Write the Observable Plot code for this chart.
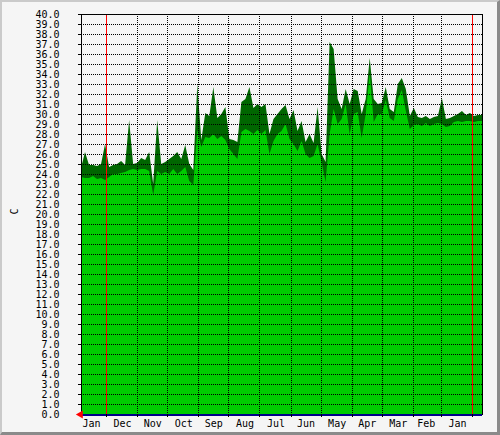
<!DOCTYPE html>
<html>
<head>
<meta charset="utf-8">
<script src="https://cdn.jsdelivr.net/npm/d3@7"></script>
<script src="https://cdn.jsdelivr.net/npm/@observablehq/plot@0.6"></script>
<style>
  html, body { margin: 0; padding: 0; background: #f5f5f5; }
  #wrap { position: relative; width: 500px; height: 435px; background: #f5f5f5; overflow: hidden; }
  #wrap svg { display: block; }
  #border { position: absolute; left: 0; top: 0; width: 500px; height: 435px; box-sizing: border-box;
    border-left: 2px solid #cacaca; border-top: 2px solid #cacaca;
    border-right: 3px solid #8a8a8a; border-bottom: 3px solid #8a8a8a; pointer-events: none; }
</style>
</head>
<body>
<div id="wrap"><div id="border"></div></div>
<script>
// Samples every 4 days, newest first (left of the chart = newest)
const newestDate = "2014-01-26";
const oldestDate = "2012-12-22";
const stepDays = 4;
const avgTemp = [
  23.7, 23.6, 23.6, 23.8, 23.5, 23.6, 23.4, 23.7, 24.0, 24.0,
  24.1, 24.2, 24.4, 24.5, 24.4, 24.5, 24.5, 24.3, 21.9, 24.3,
  24.0, 24.2, 24.0, 24.5, 24.0, 24.3, 24.7, 23.3, 22.9, 28.4,
  26.7, 27.7, 27.6, 28.0, 27.5, 27.8, 27.4, 26.5, 26.0, 25.5,
  28.2, 28.5, 28.3, 28.0, 28.4, 28.0, 28.4, 26.0, 27.3, 28.0,
  28.3, 29.0, 27.5, 27.0, 26.3, 27.3, 26.0, 25.6, 25.8, 27.0,
  25.2, 23.2, 28.0, 30.5, 29.0, 29.5, 31.0, 28.0, 30.0, 30.2,
  27.6, 30.0, 34.1, 29.2, 30.0, 30.0, 31.4, 29.6, 29.3, 31.5,
  32.4, 30.3, 28.5, 28.9, 29.0, 28.8, 29.1, 28.8, 29.0, 29.1,
  29.0, 28.7, 28.8, 29.2, 29.3, 29.2, 29.3, 29.3, 29.2, 29.3,
  29.3
];
const maxTemp = [
  24.6, 26.2, 24.9, 24.9, 24.8, 25.0, 27.0, 24.7, 24.9, 25.0,
  25.3, 24.9, 29.4, 25.0, 25.1, 25.6, 25.4, 26.2, 23.0, 29.4,
  25.0, 25.2, 25.5, 25.8, 26.2, 25.5, 26.9, 25.0, 24.4, 33.0,
  27.4, 30.1, 29.8, 32.7, 29.6, 30.0, 30.7, 27.5, 27.4, 27.2,
  31.2, 31.5, 32.7, 30.6, 31.0, 30.7, 31.0, 28.0, 29.5, 30.0,
  30.5, 30.9, 29.5, 30.4, 28.3, 29.3, 27.2, 28.0, 27.1, 30.7,
  26.0, 25.2, 37.2, 36.5, 31.5, 30.5, 32.5, 31.0, 32.5, 32.3,
  30.0, 31.5, 35.6, 31.5, 31.0, 31.1, 32.7, 30.5, 30.2, 33.0,
  33.6, 32.5, 29.8, 30.6, 29.7, 29.6, 29.8, 29.5, 29.7, 29.8,
  31.6, 29.5, 29.6, 29.8, 30.0, 30.3, 29.9, 30.1, 29.8, 29.9,
  29.9
];
const yTicks = d3.range(0, 41, 1);
const yearMarks = ["2013-01-01", "2014-01-01"];
const unitLabel = "C";

const t1 = new Date(newestDate + "T00:00:00Z");
const t0 = new Date(oldestDate + "T00:00:00Z");
const data = avgTemp.map((a, i) => ({
  date: d3.utcDay.offset(t1, -stepDays * i),
  avg: a,
  max: maxTemp[i]
}));
const monthStarts = d3.utcMonth.range(t0, t1);
const monthMids = d3.utcMonth.range(d3.utcMonth.floor(t0), t1)
  .map(d => d3.utcDay.offset(d, 15))
  .filter(d => d >= t0 && d <= t1);
const years = yearMarks.map(s => new Date(s + "T00:00:00Z"));
const crisp = { shapeRendering: "crispEdges" };

const chart = Plot.plot({
  width: 500,
  height: 435,
  marginLeft: 81,
  marginRight: 18,
  marginTop: 14,
  marginBottom: 21,
  style: { fontFamily: "DejaVu Sans Mono", fontSize: "10px", background: "transparent", color: "black" },
  x: { type: "utc", domain: [t0, t1], reverse: true, label: null },
  y: { domain: [0, 40], label: null },
  marks: [
    Plot.areaY(data, { x: "date", y: "max", fill: "#006600", curve: "linear" }),
    Plot.areaY(data, { x: "date", y: "avg", fill: "#00cc00", curve: "linear" }),
    Plot.ruleY(yTicks.slice(1), { stroke: "black", strokeDasharray: "1,1", strokeWidth: 1, ...crisp }),
    Plot.ruleX(monthStarts, { stroke: "black", strokeDasharray: "1,1", strokeWidth: 1, ...crisp }),
    Plot.ruleX(years, { stroke: "#ff0000", strokeWidth: 1, ...crisp }),
    Plot.frame({ stroke: "black", ...crisp }),
    Plot.ruleY([0], { stroke: "#000088", strokeWidth: 2, ...crisp }),
    Plot.axisY({ ticks: yTicks, tickFormat: d => d.toFixed(1), tickSize: 3, tickPadding: 19, fontSize: 10, ...crisp }),
    Plot.axisX({ ticks: monthMids, tickFormat: d3.utcFormat("%b"), tickSize: 0, tickPadding: 5, fontSize: 10 }),
    Plot.axisX({ ticks: monthStarts, tickFormat: () => "", tickSize: 3, ...crisp }),
    Plot.text([unitLabel], { frameAnchor: "left", text: d => d, rotate: -90, dx: -67, fontSize: 10 }),
    Plot.dot([t1], { x: d => d, y: () => 0, symbol: "triangle", r: 3, fill: "#ff0000", rotate: -90, dx: -1 })
  ]
});
document.getElementById("wrap").insertBefore(chart, document.getElementById("border"));
</script>
</body>
</html>
